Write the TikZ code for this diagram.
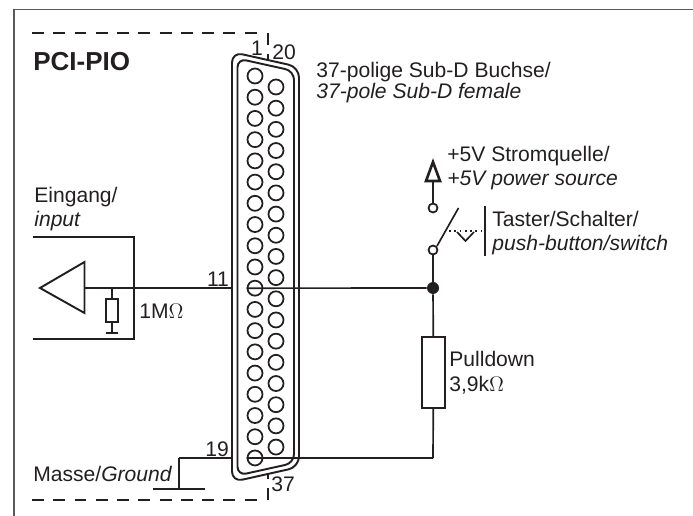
\documentclass[tikz,border=0pt]{standalone}
\usepackage{fontspec}
\setmainfont{Liberation Sans}
\usetikzlibrary{calc}
\definecolor{framegray}{RGB}{90, 90, 90}
\definecolor{inkblack}{RGB}{35, 31, 32}
\tikzstyle{wire} = [line width=0.95pt, draw=inkblack]
\tikzstyle{heavyWire} = [line width=1.1pt, draw=inkblack]
\tikzstyle{label} = [inner sep=0pt, anchor=west, text=inkblack, font=\fontsize{12}{14}\selectfont]
\tikzstyle{pinLabel} = [inner sep=0pt, text=inkblack, font=\fontsize{12}{14}\selectfont]
\tikzstyle{pinHole} = [shape=circle, draw=inkblack, line width=1pt, fill=white, minimum size=0.30cm, inner sep=0pt]
\tikzstyle{contact} = [shape=circle, draw=inkblack, line width=1pt, fill=white, minimum size=0.18cm, inner sep=0pt]
\tikzstyle{resistorBox} = [shape=rectangle, draw=inkblack, line width=1.1pt, fill=white, inner sep=0pt]
\tikzstyle{boardEdge} = [line width=1.2pt, draw=inkblack, dash pattern=on 6.8pt off 5.3pt]

\begin{document}
\begin{tikzpicture}[x=0.02cm, y=-0.02cm]
  \useasboundingbox (0,0) rectangle (693,516);
  \draw [line width=0.9pt, framegray] (14,516) -- (14,9.5) -- (693,9.5);

  % board outline
  \draw [boardEdge] (32,33) -- (262,33);
  \draw [boardEdge] (32,500) -- (262,500);
  \draw [boardEdge] (268,33) -- (268,60);
  \draw [boardEdge] (268,500) -- (268,475);

  % connector shell
  \draw [heavyWire, rounded corners=6pt] (232,200) -- (232,52) -- (299,67) -- (299,467) -- (232,482) -- cycle;
  \draw [heavyWire, rounded corners=5pt] (237.5,200) -- (237.5,58.5) -- (294,71) -- (294,463) -- (237.5,475.5) -- cycle;

  % wires behind the pins
  \coordinate (WIREL) at (84.5,288);
  \coordinate (SHELLA) at (232,288);
  \coordinate (SHELLB) at (232,458);
  \coordinate (GNDC) at (179,458);
  \coordinate (GNDB) at (179,489);
  \coordinate (GNDL) at (153,489);
  \coordinate (GNDR) at (205,489);

  % pins
  \foreach \i in {1,...,19} \node (PL\i) [pinHole] at (255,{76+(\i-1)*21.22}) {};
  \foreach \i in {20,...,37} \node (PR\i) [pinHole] at (276,{87+(\i-20)*21.18}) {};

  \node (JUNC) [circle, fill=inkblack, minimum size=0.24cm, inner sep=0pt] at (433,288) {};
  \coordinate (BOTC) at (433,458);
  \node (RPULL) [resistorBox, minimum width=0.46cm, minimum height=1.42cm] at (433.5,372.5) {};
  \node (CLOW) [contact] at (433,250) {};
  \node (CUP) [contact] at (433,208) {};
  \coordinate (VBASE) at (433,181);
  \node (RIN) [resistorBox, minimum width=0.24cm, minimum height=0.46cm] at (112,310.5) {};

  \draw [wire] (WIREL) -- (SHELLA);
  \draw [wire] (PL11.west) -- (JUNC);
  \draw [wire] (GNDC) -- (SHELLB);
  \draw [wire] (PL19.west) -- (BOTC);
  \draw [wire] (JUNC) -- (RPULL);
  \draw [wire] (RPULL) -- (BOTC);
  \draw [wire] (CLOW) -- (JUNC);
  \draw [wire] (CUP) -- (VBASE);

  % input stage
  \draw [wire] (33,237) -- (134,237) -- (134,339) -- (33,339);
  \draw [heavyWire, line join=miter] (84.5,262) -- (84.5,313) -- (40,288) -- cycle;
  \coordinate (RTOP) at (112,288);
  \coordinate (RGND) at (112,333);
  \draw [wire] (RTOP) -- (RIN);
  \draw [wire] (RIN) -- (RGND);
  \draw [heavyWire] (106,333) -- (118,333);

  % ground
  \draw [wire] (GNDC) -- (GNDB);
  \draw [heavyWire] (GNDL) -- (GNDR);

  % supply and switch
  \draw [line width=1.5pt, inkblack, line join=miter] (433,162) -- (440,181) -- (426,181) -- cycle;
  \draw [wire] ($(CLOW)+(4,-4)$) -- (458.5,208);
  \draw [line width=1pt, inkblack, dotted] (449,231) -- (483,231);
  \draw [wire] (457,232) -- (465.5,241) -- (474,232);
  \draw [heavyWire] (485,206) -- (485,256);

  % texts
  \node (TITLE) [label, font=\bfseries\fontsize{14.8}{16}\selectfont] at (33,62) {PCI-PIO};
  \node (SUBDA) [label] at (316,72) {37-polige Sub-D Buchse/};
  \node (SUBDB) [label] at (316,93) {\itshape 37-pole Sub-D female};
  \node (POWA) [label] at (447,156) {+5V Stromquelle/};
  \node (POWB) [label] at (447,180) {\itshape +5V power source};
  \node (TASTA) [label] at (492,219) {Taster/Schalter/};
  \node (TASTB) [label] at (492,245) {\itshape push-button/switch};
  \node (PULLA) [label] at (449,359) {Pulldown};
  \node (PULLB) [label] at (449,385) {3,9k$\Omega$};
  \node (MEGA) [label] at (139,311) {1M$\Omega$};
  \node (INA) [label] at (34,197) {Eingang/};
  \node (INB) [label] at (34,221) {\itshape input};
  \node (GNDT) [label] at (33,474) {Masse/\itshape Ground};

  \node (NA) [pinLabel] at (257,48) {1};
  \node (NB) [pinLabel] at (284,52) {20};
  \node (NC) [pinLabel] at (283,484) {37};
  \node (ND) [pinLabel] at (217,449) {19};
  \node (NE) [pinLabel] at (218,279) {11};
\end{tikzpicture}
\end{document}
